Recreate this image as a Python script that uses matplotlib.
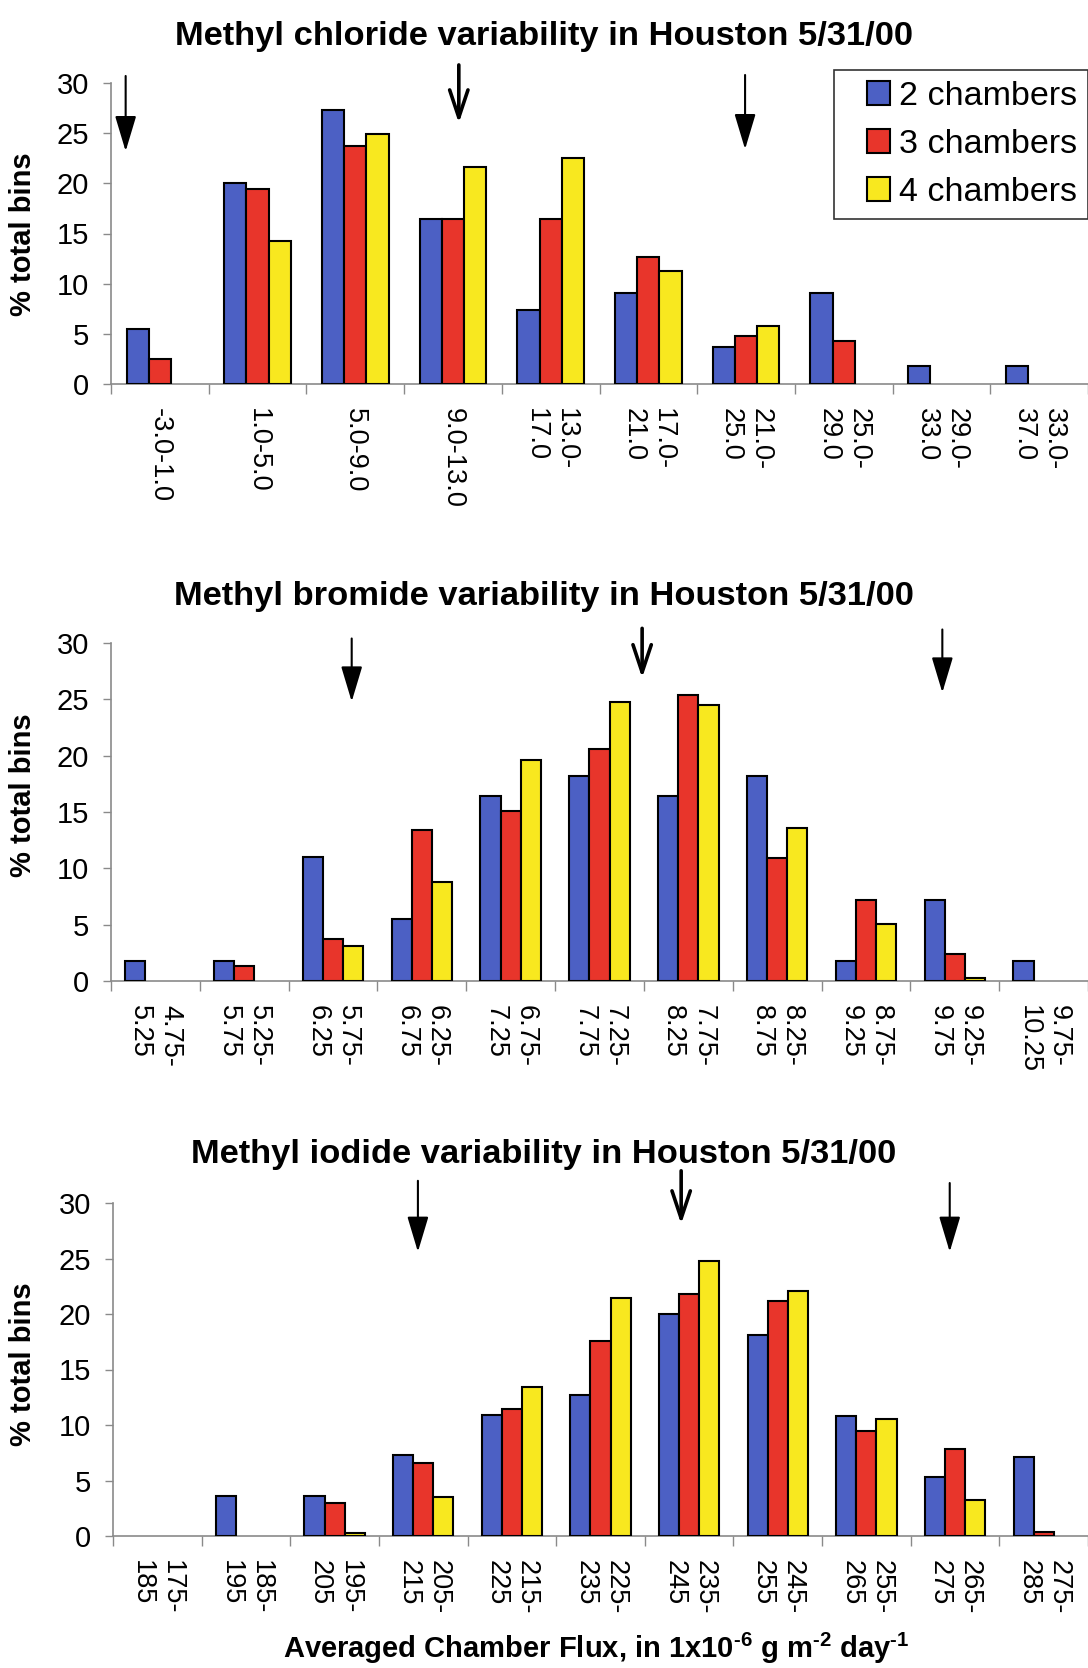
import matplotlib
matplotlib.use("Agg")
import matplotlib.pyplot as plt
from matplotlib.patches import Rectangle
from matplotlib.legend_handler import HandlerPatch
import numpy as np

plt.rcParams['font.family'] = ['Liberation Sans', 'DejaVu Sans']
plt.rcParams['mathtext.fontset'] = 'custom'
plt.rcParams['mathtext.rm'] = 'Liberation Sans:bold'
plt.rcParams['mathtext.default'] = 'rm'

series_names = ["2 chambers", "3 chambers", "4 chambers"]
colors = ["#4c60c4", "#e8352b", "#f8e81f"]

# Methyl chloride
cl_labels = ["-3.0-1.0", "1.0-5.0", "5.0-9.0", "9.0-13.0", "13.0-\n17.0", "17.0-\n21.0",
             "21.0-\n25.0", "25.0-\n29.0", "29.0-\n33.0", "33.0-\n37.0"]
cl_2 = [5.5, 20.0, 27.3, 16.4, 7.4, 9.1, 3.7, 9.1, 1.8, 1.8]
cl_3 = [2.5, 19.4, 23.7, 16.4, 16.4, 12.7, 4.8, 4.3, 0, 0]
cl_4 = [0, 14.3, 24.9, 21.6, 22.5, 11.3, 5.8, 0, 0, 0]

# Methyl bromide
br_labels = ["4.75-\n5.25", "5.25-\n5.75", "5.75-\n6.25", "6.25-\n6.75", "6.75-\n7.25", "7.25-\n7.75",
             "7.75-\n8.25", "8.25-\n8.75", "8.75-\n9.25", "9.25-\n9.75", "9.75-\n10.25"]
br_2 = [1.8, 1.8, 11.0, 5.5, 16.4, 18.2, 16.4, 18.2, 1.8, 7.2, 1.8]
br_3 = [0, 1.3, 3.7, 13.4, 15.1, 20.6, 25.4, 10.9, 7.2, 2.4, 0]
br_4 = [0, 0, 3.1, 8.8, 19.6, 24.8, 24.5, 13.6, 5.1, 0.3, 0]

# Methyl iodide
io_labels = ["175-\n185", "185-\n195", "195-\n205", "205-\n215", "215-\n225", "225-\n235",
             "235-\n245", "245-\n255", "255-\n265", "265-\n275", "275-\n285"]
io_2 = [0, 3.6, 3.6, 7.3, 10.9, 12.7, 20.0, 18.1, 10.8, 5.3, 7.1]
io_3 = [0, 0, 3.0, 6.6, 11.4, 17.6, 21.8, 21.2, 9.5, 7.8, 0.4]
io_4 = [0, 0, 0.3, 3.5, 13.4, 21.4, 24.8, 22.1, 10.5, 3.2, 0]

titles = ["Methyl chloride variability in Houston 5/31/00",
          "Methyl bromide variability in Houston 5/31/00",
          "Methyl iodide variability in Houston 5/31/00"]

# arrows: (x in bin units, y start, y tip, style)
cl_arrows = [(0.15, 30.7, 23.2, 'thin'), (3.56, 31.8, 26.0, 'open'), (6.49, 30.8, 23.4, 'thin')]
br_arrows = [(2.71, 30.4, 24.8, 'thin'), (5.98, 31.3, 26.9, 'open'), (9.36, 31.2, 25.6, 'thin')]
io_arrows = [(3.44, 32.0, 25.6, 'thin'), (6.41, 32.9, 28.1, 'open'), (9.44, 31.8, 25.6, 'thin')]

W, H = 1088, 1668
fig = plt.figure(figsize=(W / 100, H / 100), dpi=100)

# axes boxes in pixels: left, right, y(0), y(30)
boxes = [(111, 1088, 384, 83), (111, 1088, 981, 643), (113, 1088, 1536, 1203)]
title_y = [37, 596, 1154]
ylabel_y = [234, 795, 1364]

panels = [
    (cl_labels, [cl_2, cl_3, cl_4], cl_arrows),
    (br_labels, [br_2, br_3, br_4], br_arrows),
    (io_labels, [io_2, io_3, io_4], io_arrows),
]


def square_patch(legend, orig_handle, xdescent, ydescent, width, height, fontsize):
    s = height
    return Rectangle((-xdescent + width - s, -ydescent), s, s)


bw = 0.227
spine_col = "#8a8a8a"
for k, ((labels, vals, arrows), (l, r, y0, y30)) in enumerate(zip(panels, boxes)):
    ax = fig.add_axes([l / W, 1 - y0 / H, (r - l) / W, (y0 - y30) / H])
    n = len(labels)
    x = np.arange(n) + 0.5
    for j, (v, c) in enumerate(zip(vals, colors)):
        v = np.asarray(v, dtype=float)
        bars = ax.bar(x + (j - 1) * bw, v, width=bw, color=c, edgecolor="black", linewidth=1.5,
                      zorder=3)
        for b, val in zip(bars, v):
            if val <= 0:
                b.set_visible(False)
    ax.set_xlim(0, n)
    ax.set_ylim(0, 30)
    ax.set_yticks(np.arange(0, 31, 5))
    ax.set_xticks(np.arange(n + 1))
    ax.set_xticklabels([])
    ax.set_xticks(x, minor=True)
    ax.set_xticklabels(labels, minor=True, rotation=270, ha='center', va='top',
                       multialignment='left', fontsize=19.5, linespacing=1.2)
    ax.tick_params(axis='x', which='minor', length=0, pad=17)
    ax.tick_params(axis='x', which='major', length=7, width=1, color=spine_col, direction='out')
    ax.tick_params(axis='y', length=6, width=1, color=spine_col, labelsize=21, pad=10)
    for s in ['top', 'right']:
        ax.spines[s].set_visible(False)
    for s in ['left', 'bottom']:
        ax.spines[s].set_color(spine_col)
        ax.spines[s].set_linewidth(1.2)
    ax.patch.set_alpha(0)
    for (ax_x, ys, yt, st) in arrows:
        if st == 'thin':
            props = dict(arrowstyle='-|>,head_length=1.0,head_width=0.3', lw=1.5, color='black',
                         shrinkA=0, shrinkB=0, mutation_scale=22)
        else:
            props = dict(arrowstyle='->,head_length=0.9,head_width=0.3', lw=2.6, color='black',
                         shrinkA=0, shrinkB=0, mutation_scale=22)
        ax.annotate('', xy=(ax_x, yt), xytext=(ax_x, ys), arrowprops=props,
                    annotation_clip=False, zorder=5)
    fig.text(0.5, 1 - title_y[k] / H, titles[k], ha='center', va='center',
             fontsize=24.8, fontweight='bold')
    fig.text(23 / W, 1 - ylabel_y[k] / H, "% total bins",
             rotation=90, ha='center', va='center', fontsize=21, fontweight='bold')
    if k == 0:
        handles = [Rectangle((0, 0), 1, 1, facecolor=c, edgecolor='black', linewidth=1.5)
                   for c in colors]
        leg = ax.legend(handles, series_names, loc='upper right',
                        bbox_to_anchor=(1.0, (y0 - 70) / (y0 - y30)),
                        borderaxespad=0, fontsize=24.5, frameon=True, fancybox=False,
                        edgecolor='black', handlelength=1.35, handleheight=0.68,
                        handletextpad=0.25, labelspacing=0.5, borderpad=0.32,
                        handler_map={Rectangle: HandlerPatch(patch_func=square_patch)})
        leg.get_frame().set_linewidth(1.2)

fig.text(596 / W, 1 - 1648 / H,
         r"Averaged Chamber Flux, in 1x10$^{\text{-}6}$ g m$^{\text{-}2}$ day$^{\text{-}1}$",
         ha='center', va='center', fontsize=21, fontweight='bold')

fig.savefig("out.png", dpi=100, facecolor='white')
